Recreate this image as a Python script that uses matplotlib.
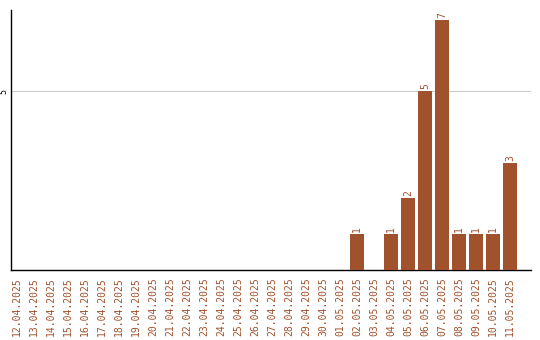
import matplotlib
matplotlib.use("Agg")
import matplotlib.pyplot as plt

dates = ["12.04.2025", "13.04.2025", "14.04.2025", "15.04.2025", "16.04.2025",
         "17.04.2025", "18.04.2025", "19.04.2025", "20.04.2025", "21.04.2025",
         "22.04.2025", "23.04.2025", "24.04.2025", "25.04.2025", "26.04.2025",
         "27.04.2025", "28.04.2025", "29.04.2025", "30.04.2025", "01.05.2025",
         "02.05.2025", "03.05.2025", "04.05.2025", "05.05.2025", "06.05.2025",
         "07.05.2025", "08.05.2025", "09.05.2025", "10.05.2025", "11.05.2025"]
values = [0, 0, 0, 0, 0, 0, 0, 0, 0, 0,
          0, 0, 0, 0, 0, 0, 0, 0, 0, 0,
          1, 0, 1, 2, 5, 7, 1, 1, 1, 3]

color = "#A0522D"
fig = plt.figure(figsize=(5.4, 3.4), dpi=100)
ax = fig.add_axes([11/540, 1-270/340, 520/540, 260/340])
x = list(range(len(dates)))
ax.bar(x, values, width=0.82, color=color, zorder=3)
for xi, v in zip(x, values):
    if v > 0:
        ax.text(xi, v + 0.06, str(v), rotation=90, ha="center", va="bottom",
                color=color, fontsize=7, family="DejaVu Sans Mono")
ax.set_xlim(-0.35, 30.24)
ax.set_ylim(0, 7.27)
ax.set_yticks([5])
ax.set_yticklabels(["5"], rotation=90, va="center", fontsize=6, family="DejaVu Sans Mono")
ax.set_xticks(x)
ax.set_xticklabels(dates, rotation=90, color=color, fontsize=7, family="DejaVu Sans Mono")
ax.tick_params(axis="both", length=0)
ax.tick_params(axis="x", pad=5)
ax.tick_params(axis="y", pad=2)
ax.grid(axis="y", color="#cccccc", linewidth=0.8, zorder=0)
for s in ["top", "right"]:
    ax.spines[s].set_visible(False)
for s in ["left", "bottom"]:
    ax.spines[s].set_color("black")
    ax.spines[s].set_linewidth(1.0)
fig.savefig("out.png", dpi=100)
